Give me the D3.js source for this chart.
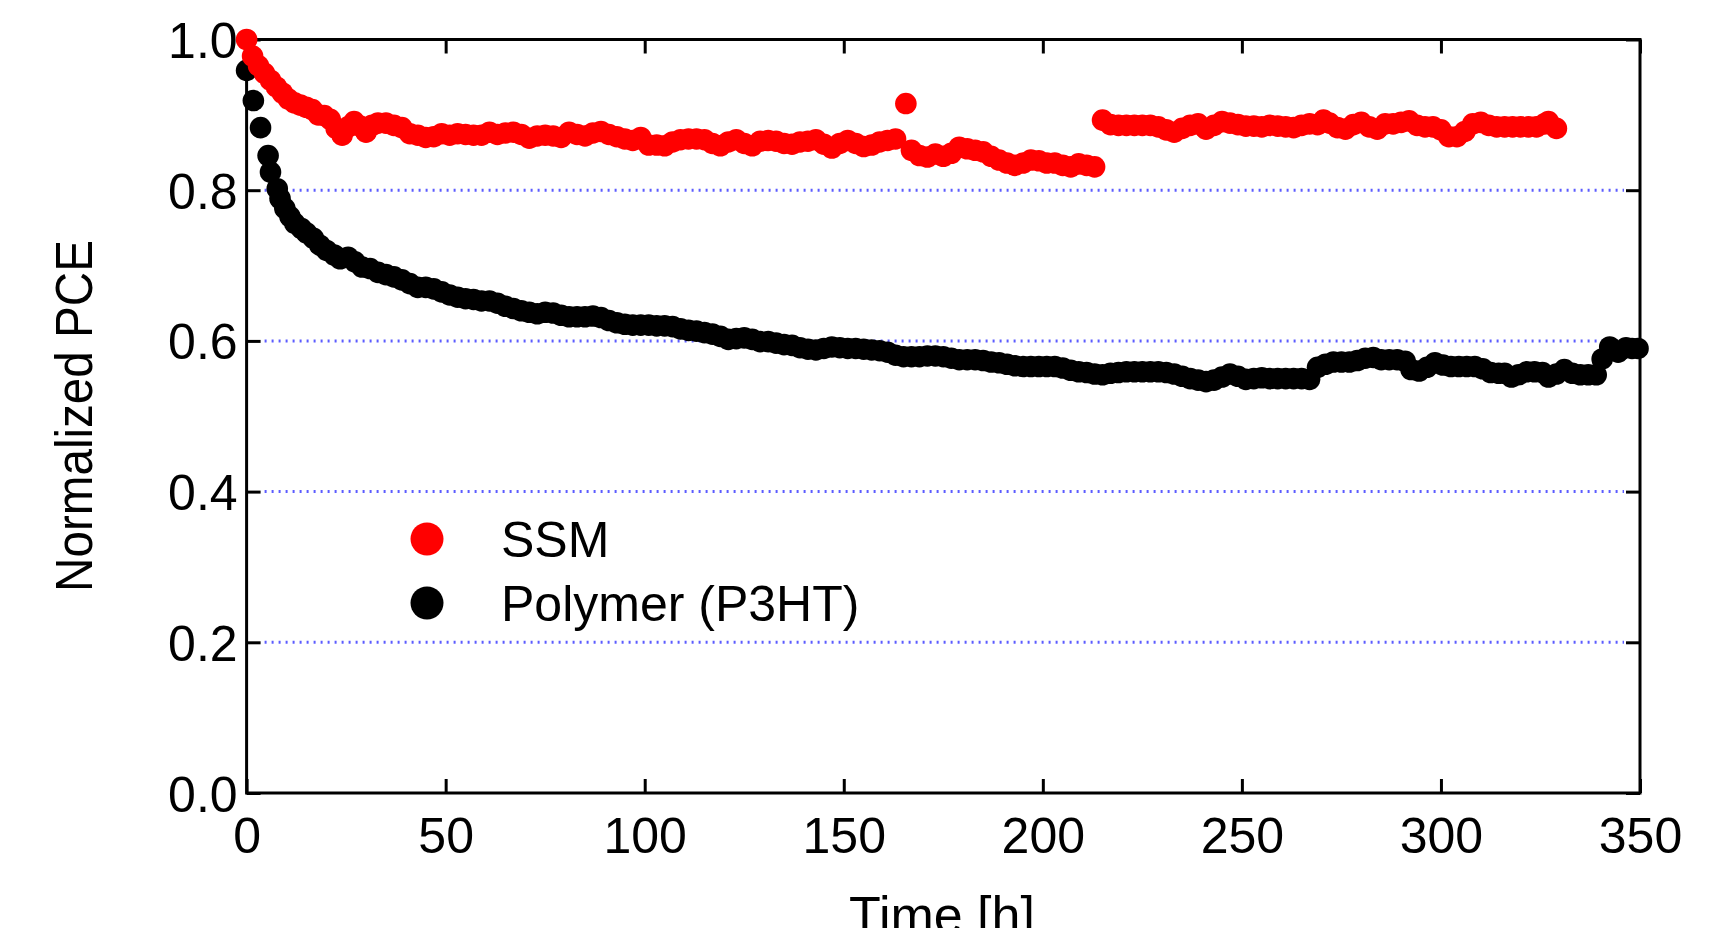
<!DOCTYPE html>
<html>
<head>
<meta charset="utf-8">
<script src="https://cdn.jsdelivr.net/npm/d3@7"></script>
<style>
  html, body { margin: 0; padding: 0; background: #fff; }
  svg { display: block; }
  text { font-family: "Liberation Sans", Arial, "DejaVu Sans", sans-serif; fill: #000; }
</style>
</head>
<body>
<svg id="chart" width="1726" height="928"></svg>
<script>
// Normalized PCE vs. time, [hours, PCE / PCE0]
const ssmSeries = [
  [0,1.000],[1.5,0.978],[3,0.965],[4.5,0.955],[6,0.946],[7.5,0.937],[9,0.929],[10.5,0.921],[12,0.916],[13.5,0.913],
  [15,0.910],[16.5,0.907],[18,0.900],[19.5,0.899],[21,0.894],[22.5,0.882],[24,0.873],[25.5,0.884],[27,0.891],[28.5,0.885],
  [30,0.877],[31.5,0.886],[33,0.889],[35,0.889],[37,0.886],[39,0.883],[41,0.875],[43,0.873],[45,0.870],[47,0.871],
  [49,0.875],[51,0.873],[53,0.875],[55,0.874],[57,0.873],[59,0.873],[61,0.877],[63,0.874],[65,0.876],[67,0.877],
  [69,0.874],[71,0.869],[73,0.872],[75,0.873],[77,0.872],[79,0.870],[81,0.877],[83,0.874],[85,0.872],[87,0.876],
  [89,0.878],[91,0.874],[93,0.871],[95,0.868],[97,0.866],[99,0.870],[101,0.860],[103,0.860],[105,0.859],[107,0.864],
  [109,0.867],[111,0.868],[113,0.868],[115,0.867],[117,0.862],[119,0.859],[121,0.864],[123,0.867],[125,0.862],[127,0.859],
  [129,0.865],[131,0.866],[133,0.865],[135,0.862],[137,0.861],[139,0.864],[141,0.865],[143,0.867],[145,0.861],[147,0.856],
  [149,0.862],[151,0.866],[153,0.862],[155,0.858],[157,0.860],[159,0.864],[161,0.866],[163,0.868],[165.6,0.915],[167,0.853],
  [169,0.846],[171,0.844],[173,0.848],[175,0.845],[177,0.849],[179,0.857],[181,0.855],[183,0.853],[185,0.851],[187,0.845],
  [189,0.840],[191,0.836],[193,0.833],[195,0.836],[197,0.840],[199,0.839],[201,0.836],[203,0.836],[205,0.833],[207,0.831],
  [209,0.835],[211,0.833],[213,0.831],
  [215,0.893],[217,0.887],[219,0.886],[221,0.886],[223,0.886],[225,0.886],[227,0.886],[229,0.884],[231,0.880],[233,0.877],
  [235,0.882],[237,0.886],[239,0.888],[241,0.881],[243,0.886],[245,0.891],[247,0.889],[249,0.887],[251,0.885],[253,0.885],
  [255,0.884],[257,0.886],[259,0.885],[261,0.884],[263,0.883],[265,0.886],[267,0.888],[269,0.887],[270.5,0.893],[272,0.889],
  [274,0.883],[276,0.881],[278,0.887],[280,0.890],[282,0.884],[284,0.881],[286,0.888],[288,0.888],[290,0.890],[292,0.892],
  [294,0.886],[296,0.884],[298,0.884],[300,0.880],[302,0.871],[304,0.871],[306,0.878],[308,0.888],[310,0.890],[312,0.886],
  [314,0.884],[316,0.884],[318,0.884],[320,0.884],[322,0.884],[324,0.884],[326,0.888],[327,0.891],[329,0.882]
];

const polymerSeries = [
  [0,0.959],[1.7,0.919],[3.5,0.883],[5.4,0.846],[6,0.824],[7.7,0.802],[8.4,0.789],[9.6,0.776],[10.9,0.765],[12.1,0.756],
  [13.8,0.749],[15.1,0.743],[16.8,0.736],[18.4,0.727],[20.1,0.720],[22,0.714],[23.5,0.709],[25.5,0.711],[27.2,0.705],[29,0.698],
  [31,0.696],[33,0.691],[35,0.688],[37,0.685],[39,0.681],[41,0.676],[43,0.671],[45,0.671],[47,0.669],[49,0.665],
  [51,0.661],[53,0.658],[55,0.656],[57,0.655],[59,0.653],[61,0.653],[63,0.650],[65,0.646],[67,0.643],[69,0.640],
  [71,0.638],[73,0.636],[75,0.638],[77,0.637],[79,0.634],[81,0.632],[83,0.632],[85,0.632],[87,0.633],[89,0.631],
  [91,0.627],[93,0.624],[95,0.622],[97,0.621],[99,0.621],[101,0.621],[103,0.620],[105,0.620],[107,0.619],[109,0.616],
  [111,0.614],[113,0.613],[115,0.611],[117,0.609],[119,0.606],[121,0.602],[123,0.603],[125,0.604],[127,0.602],[129,0.599],
  [131,0.599],[133,0.597],[135,0.595],[137,0.594],[139,0.591],[141,0.589],[143,0.588],[145,0.590],[147,0.592],[149,0.591],
  [151,0.590],[153,0.590],[155,0.589],[157,0.588],[159,0.587],[161,0.585],[163,0.581],[165,0.579],[167,0.579],[169,0.579],
  [171,0.580],[173,0.580],[175,0.579],[177,0.577],[179,0.575],[181,0.575],[183,0.575],[185,0.574],[187,0.572],[189,0.571],
  [191,0.569],[193,0.567],[195,0.566],[197,0.566],[199,0.566],[201,0.566],[203,0.566],[205,0.564],[207,0.561],[209,0.559],
  [211,0.558],[213,0.556],[215,0.555],[217,0.557],[219,0.558],[221,0.559],[223,0.559],[225,0.559],[227,0.559],[229,0.559],
  [231,0.558],[233,0.556],[235,0.553],[237,0.550],[239,0.548],[241,0.546],[243,0.548],[245,0.552],[247,0.556],[249,0.553],
  [251,0.549],[253,0.550],[255,0.551],[257,0.550],[259,0.550],[261,0.550],[263,0.550],[265,0.550],[267,0.549],[269,0.565],
  [271,0.569],[273,0.572],[275,0.572],[277,0.572],[279,0.574],[281,0.577],[283,0.578],[285,0.575],[287,0.575],[289,0.575],
  [291,0.573],[292.5,0.562],[294.5,0.560],[296.5,0.565],[298.5,0.571],[300.5,0.568],[302.5,0.566],[304.5,0.566],[306.5,0.566],[308.5,0.566],
  [310.5,0.563],[312.5,0.558],[314.5,0.557],[316,0.557],[317.7,0.552],[319.5,0.555],[321.5,0.559],[323.5,0.559],[325.5,0.558],[327,0.552],
  [329,0.556],[331,0.562],[333,0.557],[335,0.555],[337,0.555],[339,0.555],[340.5,0.576],[342.4,0.592],[344.5,0.585],[346.5,0.591],
  [348,0.590],[349.5,0.590]
];

const seriesNames = ["SSM", "Polymer (P3HT)"];
const seriesColors = ["#ff0000", "#000000"];
const xTicks = [0, 50, 100, 150, 200, 250, 300, 350];
const yTicks = [0.0, 0.2, 0.4, 0.6, 0.8, 1.0];
const gridValues = [0.2, 0.4, 0.6, 0.8];
const xTitle = "Time [h]";
const yTitle = "Normalized PCE";

const svg = d3.select("#chart");
const W = 1726, H = 928;
const plot = { left: 246.6, right: 1640, top: 39.5, bottom: 793 };
const tickLen = 14;

svg.append("rect").attr("width", W).attr("height", H).attr("fill", "#fff");

const x = d3.scaleLinear().domain([0, 350]).range([plot.left, plot.right]);
const y = d3.scaleLinear().domain([0, 1]).range([plot.bottom, plot.top]);

// dotted horizontal grid
svg.append("g")
  .selectAll("line")
  .data(gridValues)
  .join("line")
  .attr("x1", x(0) + tickLen + 4).attr("x2", x(350) - tickLen - 2)
  .attr("y1", d => y(d)).attr("y2", d => y(d))
  .attr("stroke", "#5c5cff")
  .attr("stroke-width", 3)
  .attr("stroke-dasharray", "2,5");

// axes with inward ticks on all four sides
const fmtY = d3.format(".1f");
const styleAxis = g => {
  g.select(".domain").remove();
  g.selectAll(".tick line").attr("stroke", "#000").attr("stroke-width", 3);
  g.selectAll(".tick text").attr("font-size", 50).attr("fill", "#000")
    .attr("font-family", "'Liberation Sans', Arial, sans-serif");
};

svg.append("g")
  .attr("transform", `translate(0,${plot.bottom})`)
  .call(d3.axisBottom(x).tickValues(xTicks).tickSize(-tickLen).tickPadding(24))
  .call(styleAxis);

svg.append("g")
  .attr("transform", `translate(0,${plot.top})`)
  .call(d3.axisTop(x).tickValues(xTicks).tickSize(-tickLen).tickFormat(""))
  .call(styleAxis);

svg.append("g")
  .attr("transform", `translate(${plot.left},0)`)
  .call(d3.axisLeft(y).tickValues(yTicks).tickSize(-tickLen).tickPadding(9).tickFormat(fmtY))
  .call(styleAxis)
  .call(g => g.selectAll(".tick text").attr("dy", "0.36em"));

svg.append("g")
  .attr("transform", `translate(${plot.right},0)`)
  .call(d3.axisRight(y).tickValues(yTicks).tickSize(-tickLen).tickFormat(""))
  .call(styleAxis);

// plot frame
svg.append("rect")
  .attr("x", plot.left).attr("y", plot.top)
  .attr("width", plot.right - plot.left).attr("height", plot.bottom - plot.top)
  .attr("fill", "none").attr("stroke", "#000").attr("stroke-width", 3);

// data points: polymer first, SSM on top
const markerR = 10.8;
[[polymerSeries, seriesColors[1]], [ssmSeries, seriesColors[0]]].forEach(([data, color]) => {
  svg.append("g")
    .selectAll("circle")
    .data(data)
    .join("circle")
    .attr("cx", d => x(d[0]))
    .attr("cy", d => y(d[1]))
    .attr("r", markerR)
    .attr("fill", color);
});

// legend
const legend = svg.append("g").attr("transform", "translate(427,539)");
seriesNames.forEach((name, i) => {
  const row = legend.append("g").attr("transform", `translate(0,${i * 64})`);
  row.append("circle").attr("r", 16.5).attr("fill", seriesColors[i]);
  row.append("text").attr("x", 74).attr("y", 18).attr("font-size", 50).text(name);
});

// axis titles
svg.append("text")
  .attr("transform", "translate(92,416) rotate(-90)")
  .attr("text-anchor", "middle")
  .attr("font-size", 52)
  .attr("textLength", 352)
  .attr("lengthAdjust", "spacingAndGlyphs")
  .text(yTitle);

svg.append("text")
  .attr("x", 942).attr("y", 933)
  .attr("text-anchor", "middle")
  .attr("font-size", 52)
  .text(xTitle);
</script>
</body>
</html>
